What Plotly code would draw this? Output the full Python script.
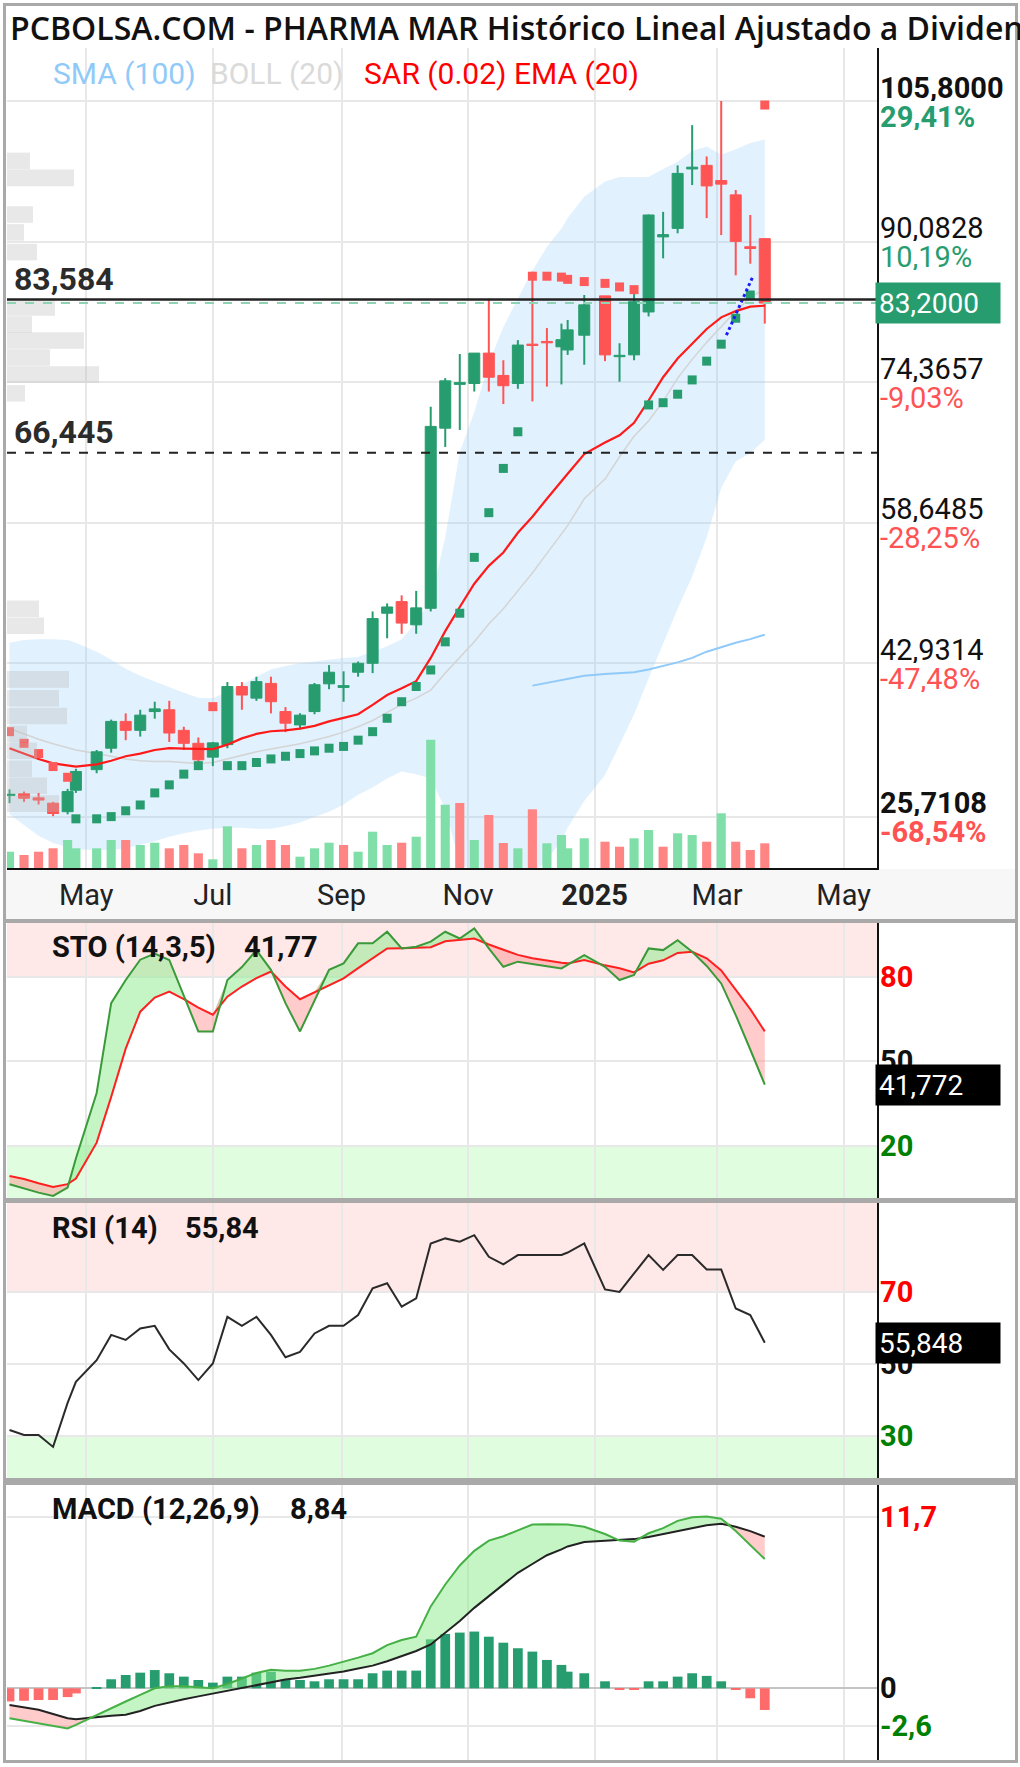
import plotly.graph_objects as go
import numpy as np

# ---------------- data (weekly candles) ----------------
dates = ['2024-03-25','2024-04-01','2024-04-08','2024-04-15','2024-04-22','2024-04-26','2024-05-06','2024-05-13',
         '2024-05-20','2024-05-27','2024-06-03','2024-06-10','2024-06-17','2024-06-24','2024-07-01','2024-07-08',
         '2024-07-15','2024-07-22','2024-07-29','2024-08-05','2024-08-12','2024-08-19','2024-08-26','2024-09-02',
         '2024-09-09','2024-09-16','2024-09-23','2024-09-30','2024-10-07','2024-10-14','2024-10-21','2024-10-28',
         '2024-11-04','2024-11-11','2024-11-18','2024-11-25','2024-12-02','2024-12-09','2024-12-16','2024-12-19',
         '2024-12-27','2025-01-06','2025-01-13','2025-01-20','2025-01-27','2025-02-03','2025-02-10','2025-02-17',
         '2025-02-24','2025-03-03','2025-03-10','2025-03-17','2025-03-24']
opens = [28.1, 28.3, 27.85, 27.25, 26.3, 28.7, 31.0, 33.4, 36.4, 35.4, 37.5, 37.7, 35.4, 33.95, 32.4, 33.8,
         40.3, 39.0, 40.65, 37.5, 36.0, 37.5, 40.6, 40.2, 41.9, 42.9, 48.5, 49.8, 47.2, 49.05, 69.2, 74.1,
         74.2, 77.6, 75.1, 74.2, 78.6, 78.9, 78.3, 77.95, 79.6, 84.0, 77.2, 77.4, 82.2, 90.6, 91.55, 98.2,
         98.6, 96.9, 95.3, 89.5, 90.4]
highs = [28.8, 28.55, 28.4, 27.4, 28.85, 31.1, 33.2, 36.6, 37.3, 37.7, 38.6, 38.7, 35.8, 34.6, 34.1, 40.8,
         40.8, 41.4, 41.4, 38.0, 37.3, 40.7, 42.7, 42.0, 43.1, 48.7, 49.6, 50.5, 51.0, 71.6, 74.8, 77.5,
         77.6, 83.7, 76.8, 79.05, 86.7, 80.4, 80.9, 81.3, 84.1, 84.0, 78.7, 84.2, 93.1, 93.4, 98.6, 103.1,
         99.6, 105.8, 95.85, 93.05, 90.4]
lows = [27.25, 27.4, 27.1, 25.8, 26.0, 28.4, 30.6, 32.9, 34.3, 34.7, 36.7, 34.1, 33.2, 31.5, 31.4, 33.4,
        37.7, 38.7, 37.3, 35.2, 35.5, 37.2, 40.0, 38.6, 41.4, 41.8, 45.7, 46.2, 46.2, 48.7, 67.1, 69.0,
        73.3, 73.3, 71.9, 73.6, 72.2, 73.85, 74.1, 77.4, 76.3, 76.7, 74.4, 76.8, 81.7, 88.2, 91.0, 96.4,
        92.7, 90.8, 86.3, 87.6, 80.9]
closes = [28.25, 27.8, 27.6, 26.1, 28.55, 30.8, 33.0, 36.4, 35.4, 37.1, 37.8, 35.1, 33.95, 32.1, 34.0, 40.3,
          39.35, 40.85, 38.6, 36.2, 37.1, 40.5, 41.9, 40.4, 42.9, 47.9, 49.2, 47.4, 49.1, 69.4, 74.5, 74.3,
          77.6, 74.9, 73.95, 78.5, 78.45, 78.75, 79.1, 80.2, 83.0, 77.4, 77.35, 83.35, 93.05, 90.85, 97.7, 98.4,
          96.3, 96.5, 90.1, 89.3, 83.2]
volume = [163, 130, 163, 197, 280, 197, 197, 280, 280, 230, 253, 197, 230, 147, 87, 417, 197, 230, 280, 230,
          113, 197, 253, 230, 163, 363, 230, 253, 313, 1283, 633, 650, 280, 530, 250, 197, 587, 247, 330, 197,
          297, 263, 213, 297, 380, 213, 347, 330, 263, 547, 263, 180, 247]

ema20 = [33.4, 32.8, 32.2, 31.7, 31.45, 31.35, 31.6, 32.0, 32.5, 32.8, 33.2, 33.4, 33.35, 33.3, 33.3, 33.8,
         34.5, 35.0, 35.3, 35.4, 35.6, 35.9, 36.4, 36.8, 37.2, 38.25, 39.35, 40.1, 40.9, 43.5, 46.5, 49.2,
         51.8, 53.8, 55.3, 57.5, 59.3, 61.3, 63.3, 64.1, 66.3, 67.6, 68.4, 69.8, 72.3, 74.9, 77.0, 78.6,
         80.3, 81.6, 82.3, 82.8, 82.9]
boll_mid = [35.6, 35.0, 34.4, 33.9, 33.5, 33.2, 32.8, 32.5, 32.2, 32.0, 31.9, 31.9, 31.8, 31.7, 31.8, 32.2,
            32.6, 33.0, 33.3, 33.6, 33.9, 34.3, 34.7, 35.2, 35.8, 36.5, 37.4, 38.3, 39.0, 39.9, 41.8, 43.5,
            45.3, 47.3, 49.0, 51.0, 53.0, 55.2, 57.3, 58.3, 61.3, 63.5, 66.0, 68.3, 70.0, 72.2, 74.8, 76.9,
            78.8, 80.6, 82.3, 83.8, 84.8]
boll_up = [45.2, 45.5, 45.6, 45.6, 45.5, 45.2, 44.2, 43.3, 42.3, 41.5, 40.85, 40.2, 39.6, 39.05, 39.0, 39.7,
           40.5, 41.4, 42.2, 42.6, 42.9, 43.1, 43.3, 43.5, 43.6, 44.2, 44.8, 45.6, 47.5, 50.0, 57.0, 66.5,
           71.0, 76.5, 80.5, 83.7, 86.8, 89.5, 91.5, 92.7, 95.1, 96.8, 97.3, 97.3, 97.3, 98.2, 99.0, 100.2,
           100.7, 99.8, 100.4, 101.1, 101.5]
boll_low = [26.0, 24.8, 23.6, 22.8, 22.3, 22.1, 22.0, 22.0, 22.2, 22.6, 23.0, 23.5, 23.9, 24.2, 24.4, 24.5,
            24.5, 24.4, 24.4, 24.7, 25.1, 25.7, 26.3, 27.1, 28.2, 29.0, 30.0, 30.8, 30.5, 30.0, 26.6, 20.5,
            19.6, 18.1, 17.5, 18.3, 19.2, 20.9, 23.1, 24.5, 27.5, 30.4, 33.8, 37.2, 41.2, 45.2, 49.0, 52.6,
            57.0, 62.5, 65.5, 66.4, 67.9]
sma100 = [None] * 36 + [40.4, 40.7, 41.0, 41.2, 41.5, 41.7, 41.8, 41.9, 42.2, 42.6, 43.0, 43.5, 44.2, 44.7,
                        45.2, 45.6, 46.1]
sar = [35.25, 33.95, 32.8, 31.35, 30.15, 25.5, 25.5, 25.75, 26.4, 27.05, 28.4, 29.3, 30.5, 31.45, 38.05, 31.45,
       31.45, 31.8, 32.2, 32.5, 32.8, 33.1, 33.4, 33.6, 34.3, 35.25, 36.75, 38.6, 40.3, 42.15, 45.3, 48.5,
       54.75, 59.75, 64.7, 68.8, 86.2, 86.2, 86.1, 85.85, 85.6, 85.4, 85.0, 84.7, 71.8, 72.05, 73.0, 74.6,
       76.7, 78.6, 81.5, 84.1, 105.35]

trend_x = ['2025-03-05 12:00', '2025-03-18 12:00']
trend_y = [79.6, 86.3]

# volume-at-price profile (left edge)
prof_price = [99.1, 97.2, 93.1, 91.1, 88.9, 82.7, 80.8, 79.0, 77.1, 75.2, 73.1, 49.0, 47.1, 41.1, 39.0, 37.0,
              35.0, 33.1, 31.1, 29.2, 27.2]
prof_vol = [23, 67, 26, 17, 30, 48, 25, 77, 43, 92, 18, 32, 37, 62, 52, 60, 20, 30, 25, 40, 52]

# oscillators
sto_k = [6.5, 5.0, 3.5, 2.35, 5.3, 15.6, 38.8, 70.6, 78.8, 86.0, 88.2, 85.9, 72.9, 60.6, 60.6, 78.8,
         83.4, 89.4, 82.4, 70.6, 60.6, 71.8, 82.4, 84.7, 91.8, 91.8, 95.9, 90.0, 90.6, 92.4, 95.9, 93.5,
         97.1, 90.0, 83.5, 85.3, 84.4, 83.7, 82.9, 84.1, 87.6, 83.5, 78.8, 80.6, 90.0, 89.4, 92.9, 88.8,
         83.8, 77.6, 66.4, 54.2, 41.77]
sto_d = [9.4, 8.3, 6.8, 5.5, 6.5, 8.5, 21.2, 37.4, 54.5, 67.6, 72.6, 74.7, 72.0, 69.0, 66.5, 72.9,
         76.5, 79.5, 81.8, 76.5, 72.0, 74.5, 77.0, 79.4, 83.0, 86.6, 90.0, 90.1, 90.3, 90.4, 92.5, 93.0,
         93.5, 91.4, 89.6, 87.7, 86.5, 85.6, 84.9, 84.7, 85.9, 84.0, 83.0, 81.5, 84.6, 85.8, 88.4, 88.8,
         86.5, 82.2, 75.2, 68.5, 60.6]
rsi = [31.7, 30.3, 30.3, 27.0, 39.2, 45.0, 51.0, 58.0, 56.6, 59.8, 60.5, 54.0, 50.1, 45.5, 50.1, 63.0,
       60.5, 63.0, 58.0, 51.8, 53.3, 58.4, 60.5, 60.5, 63.5, 70.9, 72.3, 65.8, 68.1, 83.3, 84.7, 83.8,
       85.6, 79.6, 77.5, 80.1, 80.1, 80.1, 80.1, 80.8, 83.3, 70.6, 69.9, 75.0, 80.1, 76.0, 80.1, 80.1,
       76.1, 76.1, 65.3, 63.5, 55.84]
macd = [-2.05, -2.22, -2.4, -2.6, -2.74, -2.5, -1.82, -1.35, -0.9, -0.45, 0.0, 0.15, 0.15, 0.08, 0.0, 0.3,
        0.7, 1.05, 1.27, 1.2, 1.2, 1.33, 1.55, 1.8, 2.1, 2.4, 2.95, 3.3, 3.53, 5.6, 7.1, 8.4,
        9.4, 10.1, 10.4, 10.8, 11.2, 11.22, 11.22, 11.2, 11.05, 10.55, 10.1, 10.03, 10.6, 10.95, 11.45, 11.7,
        11.75, 11.6, 10.75, 9.8, 8.84]
signal = [-1.14, -1.3, -1.47, -1.75, -2.05, -2.12, -1.95, -1.87, -1.8, -1.55, -1.2, -0.95, -0.75, -0.55, -0.36, -0.15,
          0.05, 0.25, 0.45, 0.6, 0.72, 0.85, 1.0, 1.15, 1.35, 1.55, 1.85, 2.2, 2.55, 3.0, 3.8, 4.6,
          5.5, 6.3, 7.1, 7.9, 8.5, 9.1, 9.5, 9.7, 10.0, 10.1, 10.15, 10.2, 10.35, 10.55, 10.75, 10.95,
          11.15, 11.25, 11.05, 10.75, 10.37]
hist = [-0.9, -0.85, -0.8, -0.8, -0.6, -0.35, 0.05, 0.62, 0.91, 1.07, 1.25, 1.03, 0.80, 0.57, 0.39, 0.80,
        0.80, 1.07, 1.14, 0.62, 0.57, 0.48, 0.62, 0.62, 0.62, 1.03, 1.21, 1.21, 1.21, 3.35, 3.72, 3.81,
        3.88, 3.53, 3.12, 2.74, 2.51, 1.94, 1.60, 1.14, 1.03, 0.48, -0.05, -0.05, 0.48, 0.48, 0.80, 1.03,
        0.85, 0.48, -0.1, -0.68, -1.48]

# axis labels / levels
price_levels = [105.8, 90.0828, 74.3657, 58.6485, 42.9314, 25.7108]
price_texts = ['105,8000', '90,0828', '74,3657', '58,6485', '42,9314', '25,7108']
pct_texts = ['29,41%', '10,19%', '-9,03%', '-28,25%', '-47,48%', '-68,54%']
last_price, last_text = 83.2, '83,2000'
resist, resist_text = 83.584, '83,584'
support, support_text = 66.445, '66,445'
month_ticks = ['2024-05-01', '2024-07-01', '2024-09-01', '2024-11-01', '2025-01-01', '2025-03-01', '2025-05-01']
month_text = ['May', 'Jul', 'Sep', 'Nov', '<b>2025</b>', 'Mar', 'May']
x_range = ['2024-03-23 19:00', '2025-05-17 02:00']

# ---------------- layout helpers ----------------
W, H = 1020, 1767
PL, PR = 7, 877
DAY = 86400000


def xp(px):
    return (px - PL) / (PR - PL)


def yp(py):
    return 1 - py / H


GREEN = '#279d6f'
RED = '#ff5454'
FONT = 'Roboto, Arial, sans-serif'
GRID = '#e8e8e8'

O = np.array(opens); C = np.array(closes)
up = C >= O
cand_col = [GREEN if u else RED for u in up]
prevC = np.concatenate([[C[0]], C[:-1]])
vol_col = ['#80dfa8' if c >= p else '#ff8585' for c, p in zip(C, prevC)]
sar_col = ['#ff5a5a' if s > c else GREEN for s, c in zip(sar, C)]

fig = go.Figure()

# Bollinger band (base price axis)
fig.add_trace(go.Scatter(x=dates, y=boll_up, mode='lines', line=dict(width=0, color='rgba(0,0,0,0)'),
                         hoverinfo='skip', showlegend=False, xaxis='x', yaxis='y'))
fig.add_trace(go.Scatter(x=dates, y=boll_low, mode='lines', line=dict(width=0, color='rgba(0,0,0,0)'),
                         fill='tonexty', fillcolor='rgba(144,202,249,0.27)', hoverinfo='skip',
                         showlegend=False, xaxis='x', yaxis='y'))
fig.add_trace(go.Scatter(x=dates, y=boll_mid, mode='lines', line=dict(width=1.5, color='#d4d4d4'),
                         showlegend=False, xaxis='x', yaxis='y'))

# volume profile
fig.add_trace(go.Bar(y=prof_price, x=prof_vol, orientation='h', width=1.85,
                     marker=dict(color='rgba(185,185,185,0.33)', line=dict(width=0)),
                     showlegend=False, xaxis='x5', yaxis='y'))

# volume bars
fig.add_trace(go.Bar(x=dates, y=volume, width=4.4 * DAY, marker=dict(color=vol_col, line=dict(width=0)),
                     showlegend=False, xaxis='x', yaxis='y2'))

# candles (overlay price axis)
for colr, mask in ((GREEN, up), (RED, ~up)):
    wx, wy = [], []
    for d, h, l, m in zip(dates, highs, lows, mask):
        if m:
            wx += [d, d, None]
            wy += [l, h, None]
    fig.add_trace(go.Scatter(x=wx, y=wy, mode='lines', line=dict(color=colr, width=2),
                             showlegend=False, hoverinfo='skip', xaxis='x', yaxis='y6'))
fig.add_trace(go.Bar(x=dates, y=np.abs(C - O), base=np.minimum(O, C), width=5.3 * DAY,
                     marker=dict(color=cand_col, line=dict(color=cand_col, width=1)),
                     showlegend=False, xaxis='x', yaxis='y6'))

fig.add_trace(go.Scatter(x=dates, y=ema20, mode='lines', line=dict(color='#ff1a1a', width=2.2),
                         showlegend=False, xaxis='x', yaxis='y6'))
fig.add_trace(go.Scatter(x=dates, y=sma100, mode='lines', line=dict(color='#90caf9', width=2),
                         showlegend=False, xaxis='x', yaxis='y6'))
fig.add_trace(go.Scatter(x=dates, y=sar, mode='markers',
                         marker=dict(symbol='square', size=9, color=sar_col, line=dict(width=0)),
                         showlegend=False, xaxis='x', yaxis='y6'))
fig.add_trace(go.Scatter(x=trend_x, y=trend_y, mode='lines', line=dict(color='#1a1aff', width=3, dash='dot'),
                         showlegend=False, xaxis='x', yaxis='y6'))


def two_colour_fill(a, b, xa, ya, col_pos, col_neg):
    a = np.array(a, float); b = np.array(b, float)
    top = np.maximum(a, b)
    fig.add_trace(go.Scatter(x=dates, y=b, mode='lines', line=dict(width=0, color='rgba(0,0,0,0)'),
                             showlegend=False, hoverinfo='skip', xaxis=xa, yaxis=ya))
    fig.add_trace(go.Scatter(x=dates, y=top, mode='lines', line=dict(width=0, color='rgba(0,0,0,0)'),
                             fill='tonexty', fillcolor=col_pos, showlegend=False, hoverinfo='skip',
                             xaxis=xa, yaxis=ya))
    fig.add_trace(go.Scatter(x=dates, y=a, mode='lines', line=dict(width=0, color='rgba(0,0,0,0)'),
                             showlegend=False, hoverinfo='skip', xaxis=xa, yaxis=ya))
    fig.add_trace(go.Scatter(x=dates, y=top, mode='lines', line=dict(width=0, color='rgba(0,0,0,0)'),
                             fill='tonexty', fillcolor=col_neg, showlegend=False, hoverinfo='skip',
                             xaxis=xa, yaxis=ya))


# STO
two_colour_fill(sto_k, sto_d, 'x2', 'y3', 'rgba(140,235,140,0.5)', 'rgba(255,140,140,0.45)')
fig.add_trace(go.Scatter(x=dates, y=sto_d, mode='lines', line=dict(color='#ff2020', width=2),
                         showlegend=False, xaxis='x2', yaxis='y3'))
fig.add_trace(go.Scatter(x=dates, y=sto_k, mode='lines', line=dict(color='#3a9a3a', width=2),
                         showlegend=False, xaxis='x2', yaxis='y3'))

# RSI
fig.add_trace(go.Scatter(x=dates, y=rsi, mode='lines', line=dict(color='#2a2a2a', width=2),
                         showlegend=False, xaxis='x3', yaxis='y4'))

# MACD
fig.add_trace(go.Bar(x=dates, y=hist, width=4.7 * DAY,
                     marker=dict(color=[GREEN if h >= 0 else '#ff6b6b' for h in hist], line=dict(width=0)),
                     showlegend=False, xaxis='x4', yaxis='y5'))
two_colour_fill(macd, signal, 'x4', 'y5', 'rgba(140,235,140,0.5)', 'rgba(255,140,140,0.45)')
fig.add_trace(go.Scatter(x=dates, y=signal, mode='lines', line=dict(color='#222222', width=2),
                         showlegend=False, xaxis='x4', yaxis='y5'))
fig.add_trace(go.Scatter(x=dates, y=macd, mode='lines', line=dict(color='#45b045', width=2),
                         showlegend=False, xaxis='x4', yaxis='y5'))

# ---------------- axes ----------------
main_dom = [yp(868), yp(48)]
sto_dom = [yp(1198), yp(923)]
rsi_dom = [yp(1478), yp(1203)]
macd_dom = [yp(1760), yp(1485)]

xcommon = dict(type='date', tickvals=month_ticks, showgrid=True, gridcolor=GRID, gridwidth=2,
               zeroline=False, ticks='', fixedrange=True)
ycommon = dict(side='right', showticklabels=False, showgrid=True, gridcolor=GRID, gridwidth=2,
               zeroline=False, ticks='', showline=True, linecolor='#111111', linewidth=2, fixedrange=True)

fig.update_layout(
    width=W, height=H, autosize=False,
    margin=dict(l=PL, r=W - PR, t=0, b=0, pad=0),
    paper_bgcolor='white', plot_bgcolor='white',
    barmode='overlay', showlegend=False,
    font=dict(family=FONT, color='#222222'),
    xaxis=dict(xcommon, domain=[0, 1], anchor='y', range=x_range, ticktext=month_text,
               showticklabels=True, tickfont=dict(family=FONT, size=29, color='#222222'),
               showline=True, linecolor='#111111', linewidth=2, rangeslider=dict(visible=False)),
    xaxis2=dict(xcommon, domain=[0, 1], anchor='y3', matches='x', showticklabels=False),
    xaxis3=dict(xcommon, domain=[0, 1], anchor='y4', matches='x', showticklabels=False),
    xaxis4=dict(xcommon, domain=[0, 1], anchor='y5', matches='x', showticklabels=False),
    xaxis5=dict(overlaying='x', anchor='y', range=[0, PR - PL], visible=False, fixedrange=True),
    yaxis=dict(ycommon, domain=main_dom, anchor='x', range=[20.0, 111.73], tickvals=price_levels),
    yaxis2=dict(overlaying='y', anchor='x', range=[0, 8200], visible=False, fixedrange=True),
    yaxis6=dict(overlaying='y', anchor='x', range=[20.0, 111.73], visible=False, fixedrange=True),
    yaxis3=dict(ycommon, domain=sto_dom, anchor='x2', range=[1.6, 99.0], tickvals=[20, 50, 80]),
    yaxis4=dict(ycommon, domain=rsi_dom, anchor='x3', range=[18.4, 94.5], tickvals=[30, 50, 70]),
    yaxis5=dict(ycommon, domain=macd_dom, anchor='x4', range=[-4.9, 13.9], tickvals=[-2.6, 0, 11.7],
                zeroline=True, zerolinecolor='#c4c4c4', zerolinewidth=2),
)

# ---------------- shapes ----------------
shapes = []
for yr, lo, hi in (('y3', 80, 99.0), ('y4', 70, 94.5)):
    shapes.append(dict(type='rect', xref='paper', x0=0, x1=1, yref=yr, y0=lo, y1=hi,
                       fillcolor='#ffe8e8', line=dict(width=0), layer='below'))
for yr, lo, hi in (('y3', 1.6, 20), ('y4', 18.4, 30)):
    shapes.append(dict(type='rect', xref='paper', x0=0, x1=1, yref=yr, y0=lo, y1=hi,
                       fillcolor='#e0fde0', line=dict(width=0), layer='below'))
shapes.append(dict(type='rect', xref='paper', x0=xp(5), x1=xp(1017), yref='paper', y0=yp(919), y1=yp(869),
                   fillcolor='#f7f7f7', line=dict(width=0), layer='below'))
for a, b in ((919, 923), (1198, 1203), (1478, 1485)):
    shapes.append(dict(type='rect', xref='paper', x0=xp(4), x1=xp(1017), yref='paper', y0=yp(b), y1=yp(a),
                       fillcolor='#a9a9a9', line=dict(width=0), layer='above'))
shapes.append(dict(type='rect', xref='paper', x0=xp(4.5), x1=xp(1016.5), yref='paper', y0=yp(1761.5), y1=yp(4.5),
                   fillcolor='rgba(0,0,0,0)', line=dict(color='#a9a9a9', width=3), layer='above'))
shapes.append(dict(type='line', xref='paper', x0=0, x1=1, yref='y', y0=last_price, y1=last_price,
                   line=dict(color='#8fd3b5', width=2, dash='dash'), layer='above'))
shapes.append(dict(type='line', xref='paper', x0=0, x1=1, yref='y', y0=resist, y1=resist,
                   line=dict(color='#222222', width=2.5), layer='above'))
shapes.append(dict(type='line', xref='paper', x0=0, x1=1, yref='y', y0=support, y1=support,
                   line=dict(color='#222222', width=2, dash='dash'), layer='above'))
fig.update_layout(shapes=shapes)

# ---------------- annotations ----------------
ann = []


def txt(text, x, y, size=29, color='#222222', xref='paper', yref='paper', xanchor='left',
        yanchor='middle', weight='normal', family=FONT, **kw):
    d = dict(text=text, x=x, y=y, xref=xref, yref=yref, xanchor=xanchor, yanchor=yanchor,
             showarrow=False, font=dict(family=family, size=size, color=color, weight=weight))
    d.update(kw)
    ann.append(d)


txt('PCBOLSA.COM - PHARMA MAR Histórico Lineal Ajustado a Dividendos', xp(8), yp(27), size=32,
    color='#111111', family='Open Sans, sans-serif', weight=600)
txt('SMA (100)', xp(51), yp(74), size=30, color='#90caf9')
txt('BOLL (20)', xp(208), yp(74), size=30, color='#dadada')
txt('SAR (0.02) EMA (20)', xp(362), yp(74), size=30, color='#ff0000')

nlev = len(price_levels)
for i, (lv, t, p) in enumerate(zip(price_levels, price_texts, pct_texts)):
    bold = 'bold' if i in (0, nlev - 1) else 'normal'
    txt(t, 1, lv, yref='y', xshift=2, yshift=14, color='#111111', weight=bold, height=27, borderpad=0)
    txt(p, 1, lv, yref='y', xshift=2, yshift=-15, color=GREEN if not p.startswith('-') else '#ff5252',
        weight=bold, height=27, borderpad=0)

txt(last_text, 1, last_price, yref='y', xshift=-2, size=28, color='white', bgcolor=GREEN,
    width=118, height=34, align='left', borderpad=3)
txt(resist_text, xp(12), resist, yref='y', yshift=21, size=32, color='#2b2b2b', weight='bold')
txt(support_text, xp(12), support, yref='y', yshift=21, size=32, color='#2b2b2b', weight='bold')

# lower panel titles
txt('STO (14,3,5)', xp(50), yp(947), size=29, weight='bold', color='#111111')
txt('41,77', xp(242), yp(947), size=29, weight='bold', color='#111111')
txt('RSI (14)', xp(50), yp(1228), size=29, weight='bold', color='#111111')
txt('55,84', xp(183), yp(1228), size=29, weight='bold', color='#111111')
txt('MACD (12,26,9)', xp(50), yp(1509), size=29, weight='bold', color='#111111')
txt('8,84', xp(288), yp(1509), size=29, weight='bold', color='#111111')

# lower panel right labels
for yr, items in (('y3', ((80, '80', '#ff0000'), (50, '50', '#111111'), (20, '20', '#008000'))),
                  ('y4', ((70, '70', '#ff0000'), (50, '50', '#111111'), (30, '30', '#008000'))),
                  ('y5', ((11.7, '11,7', '#ff0000'), (0, '0', '#111111'), (-2.6, '-2,6', '#008000')))):
    for v, t, c in items:
        txt(t, 1, v, yref=yr, xshift=2, color=c, weight='bold', height=28, borderpad=0)

txt('41,772', 1, sto_k[-1], yref='y3', xshift=-2, size=28, color='white', bgcolor='#000000',
    width=118, height=34, align='left', borderpad=3)
txt('55,848', 1, rsi[-1], yref='y4', xshift=-2, size=28, color='white', bgcolor='#000000',
    width=118, height=34, align='left', borderpad=3)

fig.update_layout(annotations=ann)

fig.write_html('out.html', config={'displayModeBar': False},
               post_script="document.body.style.margin='0';document.body.style.overflow='hidden';")
